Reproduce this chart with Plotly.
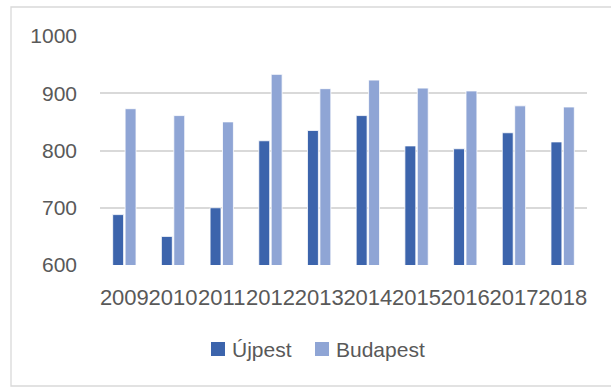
import plotly.graph_objects as go

# Yearly values for the two areas
years = ["2009", "2010", "2011", "2012", "2013", "2014", "2015", "2016", "2017", "2018"]
ujpest = [688, 650, 700, 817, 835, 861, 808, 803, 831, 815]
budapest = [873, 861, 850, 933, 908, 923, 909, 904, 878, 876]
series = [("Újpest", ujpest, "#3c64ac"), ("Budapest", budapest, "#8fa5d5")]

FONT = "Liberation Sans"
TEXT_COLOR = "#595959"
GRID_COLOR = "#d9d9d9"

fig = go.Figure()
for name, values, color in series:
    fig.add_trace(go.Bar(
        x=years, y=values, name=name, showlegend=False,
        marker=dict(color=color, line=dict(color="white", width=0.8)),
    ))

# Plot area in pixels: x 100..587, y 36..265
L, R, T, B = 100, 24, 36, 122
W, H = 611, 387
pw, ph = W - L - R, H - T - B


def px_x(p):
    return (p - L) / pw


def px_y(p):
    return (H - B - p) / ph


shapes = [dict(
    type="rect", xref="paper", yref="paper",
    x0=px_x(11), x1=px_x(612), y0=px_y(386), y1=px_y(7),
    line=dict(color=GRID_COLOR, width=1.3), fillcolor="rgba(0,0,0,0)",
    layer="below",
)]
annotations = []

# Legend row below the axis: colour square followed by the series name
legend_items = [(211, series[0]), (315, series[1])]
for left, (name, _, color) in legend_items:
    shapes.append(dict(
        type="rect", xref="paper", yref="paper",
        x0=px_x(left), x1=px_x(left + 14), y0=px_y(356), y1=px_y(342),
        line=dict(width=0), fillcolor=color,
    ))
    annotations.append(dict(
        xref="paper", yref="paper", x=px_x(left + 19), y=px_y(349),
        xanchor="left", yanchor="middle", showarrow=False, text=name,
        font=dict(family=FONT, size=21, color=TEXT_COLOR),
    ))

fig.update_layout(
    width=W, height=H,
    margin=dict(l=L, r=R, t=T, b=B, pad=0),
    paper_bgcolor="white", plot_bgcolor="white",
    barmode="group", bargap=0.49, bargroupgap=0.12,
    font=dict(family=FONT, size=21, color=TEXT_COLOR),
    showlegend=False,
    shapes=shapes,
    annotations=annotations,
)

fig.update_xaxes(
    type="category", showgrid=False, showline=False, zeroline=False,
    ticks="", tickangle=0, ticklabelstandoff=17,
    tickfont=dict(family=FONT, size=22, color=TEXT_COLOR),
)
fig.update_yaxes(
    range=[600, 1000], tickvals=[600, 700, 800, 900, 1000],
    showgrid=True, gridcolor=GRID_COLOR, gridwidth=1.5,
    showline=False, zeroline=False, ticks="", ticklabelstandoff=22,
    tickfont=dict(family=FONT, size=21, color=TEXT_COLOR),
)

fig.write_html("out.html")
